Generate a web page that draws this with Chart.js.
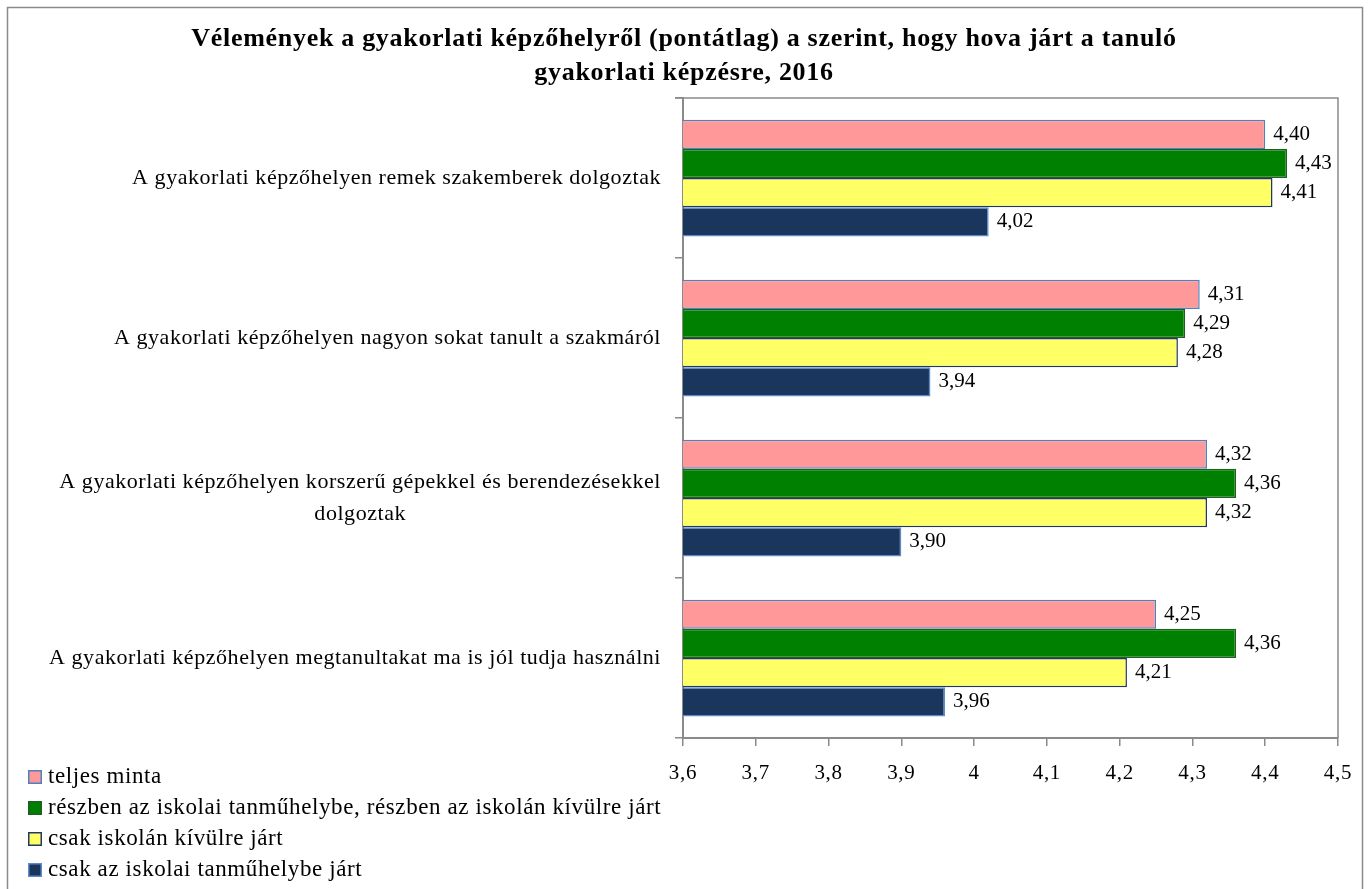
<!DOCTYPE html>
<html>
<head>
<meta charset="utf-8">
<script src="https://cdn.jsdelivr.net/npm/chart.js@4.4.1/dist/chart.umd.min.js"></script>
<style>
  html, body { margin: 0; padding: 0; background: #fff; }
  #wrap { width: 1368px; height: 889px; position: relative; }
</style>
</head>
<body>
<div id="wrap"><canvas id="kepzoChart"></canvas></div>
<script>
const titleLines = [
  'Vélemények a gyakorlati képzőhelyről (pontátlag) a szerint, hogy hova járt a tanuló',
  'gyakorlati képzésre, 2016'
];

const categories = [
  ['A gyakorlati képzőhelyen remek szakemberek dolgoztak'],
  ['A gyakorlati képzőhelyen nagyon sokat tanult a szakmáról'],
  ['A gyakorlati képzőhelyen korszerű gépekkel és berendezésekkel', 'dolgoztak'],
  ['A gyakorlati képzőhelyen megtanultakat ma is jól tudja használni']
];

const seriesNames = [
  'teljes minta',
  'részben az iskolai tanműhelybe, részben az iskolán kívülre járt',
  'csak iskolán kívülre járt',
  'csak az iskolai tanműhelybe járt'
];

const teljesMinta = [4.40, 4.31, 4.32, 4.25];
const reszben = [4.43, 4.29, 4.36, 4.36];
const kivulre = [4.41, 4.28, 4.32, 4.21];
const tanmuhely = [4.02, 3.94, 3.90, 3.96];

const xTicks = [3.6, 3.7, 3.8, 3.9, 4.0, 4.1, 4.2, 4.3, 4.4, 4.5];

const fillColors = ['#ff9999', '#008000', '#ffff66', '#1b365d'];
const edgeColors = ['#4f81bd', '#1f5f1f', '#1f3864', '#5b8bc8'];

const FONT = "'Liberation Serif', 'Times New Roman', serif";
const GRAY = '#8a8a8a';

function comma(v, digits) {
  return Number(v).toFixed(digits).replace('.', ',');
}

// outer frame + plot frame (top and right edges)
const framePlugin = {
  id: 'frame',
  beforeDraw(chart) {
    const ctx = chart.ctx;
    ctx.save();
    ctx.fillStyle = '#fff';
    ctx.fillRect(0, 0, chart.width, chart.height);
    ctx.strokeStyle = GRAY;
    ctx.lineWidth = 1.5;
    ctx.strokeRect(7.5, 7.5, chart.width - 13, chart.height + 20);
    ctx.restore();
    // the reference font runs wider, so loosen title / tick text a bit
    ctx.letterSpacing = '0.7px';
  },
  beforeDatasetsDraw(chart) {
    chart.ctx.letterSpacing = '0px';
  },
  afterDraw(chart) {
    const a = chart.chartArea;
    const ctx = chart.ctx;
    ctx.save();
    ctx.strokeStyle = GRAY;
    ctx.lineWidth = 1.5;
    ctx.beginPath();
    ctx.moveTo(a.left - 8, a.top);
    ctx.lineTo(a.right, a.top);
    ctx.lineTo(a.right, a.bottom);
    ctx.stroke();
    ctx.restore();
  }
};

// value labels right of each bar
const valueLabels = {
  id: 'valueLabels',
  afterDatasetsDraw(chart) {
    const ctx = chart.ctx;
    ctx.save();
    ctx.font = '21px ' + FONT;
    ctx.fillStyle = '#000';
    ctx.textAlign = 'left';
    ctx.textBaseline = 'middle';
    chart.data.datasets.forEach((ds, i) => {
      chart.getDatasetMeta(i).data.forEach((bar, j) => {
        ctx.fillText(comma(ds.data[j], 2), bar.x + 8, bar.y);
      });
    });
    ctx.restore();
  }
};

// category labels: block right aligned, lines centred inside the block
const categoryLabels = {
  id: 'categoryLabels',
  afterDraw(chart) {
    const ctx = chart.ctx;
    const yScale = chart.scales.y;
    const right = chart.chartArea.left - 22;
    const lh = 32;
    ctx.save();
    ctx.font = '22px ' + FONT;
    ctx.letterSpacing = '0.55px';
    ctx.fillStyle = '#000';
    ctx.textAlign = 'center';
    ctx.textBaseline = 'middle';
    categories.forEach((lines, i) => {
      const cy = yScale.getPixelForTick(i);
      const w = Math.max(...lines.map(l => ctx.measureText(l).width));
      const cx = right - w / 2;
      lines.forEach((l, k) => {
        ctx.fillText(l, cx, cy + (k - (lines.length - 1) / 2) * lh);
      });
    });
    ctx.restore();
  }
};

// vertical legend, bottom left
const sideLegend = {
  id: 'sideLegend',
  afterDraw(chart) {
    const ctx = chart.ctx;
    const x0 = 28, y0 = 777, step = 31;
    ctx.save();
    ctx.font = '23px ' + FONT;
    ctx.letterSpacing = '0.6px';
    ctx.textAlign = 'left';
    ctx.textBaseline = 'middle';
    chart.data.datasets.forEach((ds, i) => {
      const y = y0 + i * step;
      ctx.fillStyle = ds.backgroundColor;
      ctx.fillRect(x0, y - 7, 14, 14);
      ctx.strokeStyle = ds.borderColor;
      ctx.lineWidth = 1.5;
      ctx.strokeRect(x0 + 0.75, y - 6.25, 12.5, 12.5);
      ctx.fillStyle = '#000';
      ctx.fillText(ds.label, x0 + 20, y);
    });
    ctx.restore();
  }
};

const seriesData = [teljesMinta, reszben, kivulre, tanmuhely];

new Chart(document.getElementById('kepzoChart'), {
  type: 'bar',
  data: {
    labels: categories,
    datasets: seriesData.map((d, i) => ({
      label: seriesNames[i],
      data: d,
      backgroundColor: fillColors[i],
      borderColor: edgeColors[i],
      borderWidth: 1.5,
      categoryPercentage: 0.73,
      barPercentage: 1.0
    }))
  },
  options: {
    indexAxis: 'y',
    responsive: true,
    maintainAspectRatio: false,
    animation: false,
    layout: {
      padding: { top: 22, left: 30, right: 30, bottom: 0 }
    },
    plugins: {
      legend: { display: false },
      tooltip: { enabled: false },
      title: {
        display: true,
        text: titleLines,
        color: '#000',
        font: { family: FONT, size: 26, weight: 'bold', lineHeight: 1.31 },
        padding: { top: 0, bottom: 8 }
      }
    },
    scales: {
      x: {
        min: 3.6,
        max: 4.5,
        afterBuildTicks(scale) {
          scale.ticks = xTicks.map(v => ({ value: v }));
        },
        afterFit(scale) {
          scale.height = 151;
        },
        grid: {
          drawOnChartArea: false,
          drawTicks: true,
          tickLength: 8,
          color: GRAY,
          lineWidth: 1.5
        },
        border: { color: GRAY, width: 2 },
        ticks: {
          padding: 15,
          color: '#000',
          font: { family: FONT, size: 21 },
          callback(value) {
            const v = Number(Number(value).toFixed(1));
            return String(v).replace('.', ',');
          }
        }
      },
      y: {
        afterFit(scale) {
          scale.width = 653;
        },
        grid: {
          offset: true,
          drawOnChartArea: false,
          drawTicks: true,
          tickLength: 8,
          color: GRAY,
          lineWidth: 1.5
        },
        border: { color: GRAY, width: 2 },
        ticks: { display: false }
      }
    }
  },
  plugins: [framePlugin, valueLabels, categoryLabels, sideLegend]
});
</script>
</body>
</html>
